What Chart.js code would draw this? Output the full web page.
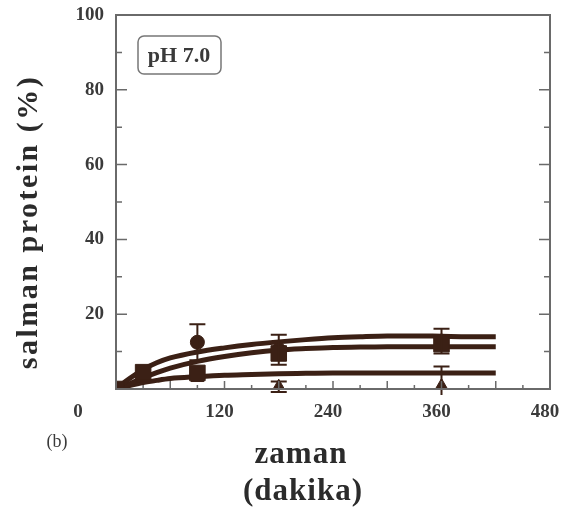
<!DOCTYPE html>
<html lang="tr">
<head>
    <meta charset="UTF-8">
    <title>salman protein - pH 7.0</title>
    <script src="https://cdn.jsdelivr.net/npm/chart.js"></script>
    <style>
        body { margin: 0; background: #ffffff; }
        #chart { display: block; }
    </style>
</head>
<body>
    <canvas id="chart" width="562" height="511"></canvas>

    <script>
        // fitted curves
        const fitTimes = [0, 15, 30, 45, 60, 90, 120, 150, 180, 210, 240, 270, 300, 330, 360, 390, 420];
        const fitUpper = [0, 2.8, 5.2, 7.0, 8.3, 9.9, 11.0, 11.9, 12.6, 13.2, 13.7, 14.0, 14.2, 14.2, 14.1, 14.0, 14.0];
        const fitMiddle = [0, 1.4, 3.0, 4.4, 5.6, 7.4, 8.7, 9.7, 10.4, 10.8, 11.1, 11.2, 11.3, 11.3, 11.3, 11.3, 11.3];
        const fitLower = [0, 0.9, 1.7, 2.3, 2.8, 3.3, 3.7, 3.9, 4.1, 4.2, 4.3, 4.3, 4.3, 4.3, 4.3, 4.3, 4.3];

        // measured points
        const sampleTimes = [0, 30, 90, 180, 360];
        const circleVals = [0, 4.0, 12.5, 10.5, 12.8];
        const circleErr = [0, 0, 4.8, 4.0, 3.3];
        const squareVals = [0, 4.5, 4.3, 9.5, 12.0];
        const squareErr = [0, 0, 0, 0, 0];
        const triangleVals = [0, 3.0, 3.0, 0.6, 0.8];
        const triangleErr = [0, 0, 0, 1.4, 5.2];

        const xTicks = [120, 240, 360, 480];
        const yTicks = [20, 40, 60, 80, 100];

        const ink = '#3b2015';
        const axisGrey = '#6a6a6a';
        const serif = "'Liberation Serif', 'DejaVu Serif', serif";

        function pts(xs, ys) {
            return xs.map((x, i) => ({ x: x, y: ys[i] }));
        }

        function curve(values) {
            return {
                type: 'line',
                data: pts(fitTimes, values),
                borderColor: ink,
                borderWidth: 5,
                pointRadius: 0,
                fill: false,
                cubicInterpolationMode: 'monotone',
                order: 2
            };
        }

        function markers(values, errs, style, radius) {
            return {
                type: 'scatter',
                data: pts(sampleTimes, values),
                errors: errs,
                pointStyle: style,
                pointRadius: radius,
                backgroundColor: ink,
                borderColor: ink,
                borderWidth: 1,
                showLine: false,
                order: 1
            };
        }

        // inward ticks, frame and error bars
        const framePlugin = {
            id: 'frame',
            afterDatasetsDraw(chart) {
                const ctx = chart.ctx;
                const a = chart.chartArea;
                const xs = chart.scales.x;
                const ys = chart.scales.y;

                // error bars
                ctx.save();
                ctx.beginPath();
                ctx.rect(a.left, a.top, a.right - a.left, a.bottom - a.top + 6);
                ctx.clip();
                ctx.strokeStyle = ink;
                ctx.lineWidth = 2;
                chart.data.datasets.forEach(ds => {
                    if (!ds.errors) return;
                    ds.data.forEach((p, i) => {
                        const e = ds.errors[i];
                        if (!e) return;
                        const px = xs.getPixelForValue(p.x);
                        const top = ys.getPixelForValue(p.y + e);
                        const bot = ys.getPixelForValue(p.y - e);
                        ctx.beginPath();
                        ctx.moveTo(px, top); ctx.lineTo(px, bot);
                        ctx.moveTo(px - 8, top); ctx.lineTo(px + 8, top);
                        ctx.moveTo(px - 8, bot); ctx.lineTo(px + 8, bot);
                        ctx.stroke();
                    });
                });
                ctx.restore();

                // box
                ctx.save();
                ctx.strokeStyle = axisGrey;
                ctx.lineWidth = 2;
                ctx.strokeRect(a.left, a.top, a.right - a.left, a.bottom - a.top);

                ctx.lineWidth = 1.5;
                ctx.beginPath();
                for (let v = 10; v < 100; v += 10) {
                    const py = ys.getPixelForValue(v);
                    const len = v % 20 === 0 ? 11 : 6;
                    ctx.moveTo(a.left, py); ctx.lineTo(a.left + len, py);
                    ctx.moveTo(a.right, py); ctx.lineTo(a.right - len, py);
                }
                for (let t = 30; t < 480; t += 30) {
                    const px = xs.getPixelForValue(t);
                    const len = t % 60 === 0 ? 8 : 4;
                    ctx.moveTo(px, a.bottom); ctx.lineTo(px, a.bottom - len);
                }
                ctx.stroke();
                ctx.restore();
            },
            afterDraw(chart) {
                const ctx = chart.ctx;
                ctx.save();
                ctx.fillStyle = '#2b2b2b';
                ctx.textAlign = 'center';
                ctx.textBaseline = 'middle';

                // axis titles
                ctx.font = 'bold 31px ' + serif;
                ctx.letterSpacing = '1px';
                ctx.fillText('zaman', 301, 455);
                ctx.fillText('(dakika)', 303, 492);

                ctx.save();
                ctx.translate(29, 222);
                ctx.rotate(-Math.PI / 2);
                ctx.font = 'bold 30px ' + serif;
                ctx.letterSpacing = '2.5px';
                ctx.fillText('salman protein (%)', 0, 0);
                ctx.restore();
                ctx.letterSpacing = '0px';

                // corner zero and panel letter
                ctx.fillStyle = '#3a3a3a';
                ctx.font = 'bold 19px ' + serif;
                ctx.fillText('0', 78, 412);
                ctx.font = '18px ' + serif;
                ctx.fillText('(b)', 57, 442);

                // pH label box
                ctx.strokeStyle = '#777';
                ctx.lineWidth = 1.5;
                ctx.beginPath();
                ctx.roundRect(138, 36, 83, 38, 6);
                ctx.stroke();
                ctx.fillStyle = '#3a3a3a';
                ctx.font = 'bold 22px ' + serif;
                ctx.fillText('pH 7.0', 179, 56);
                ctx.restore();
            }
        };

        const tickFont = { family: serif, size: 19, weight: 'bold' };

        new Chart(document.getElementById('chart'), {
            type: 'scatter',
            data: {
                datasets: [
                    curve(fitUpper),
                    curve(fitMiddle),
                    curve(fitLower),
                    markers(squareVals, squareErr, 'rect', 11),
                    markers(triangleVals, triangleErr, 'triangle', 7.5),
                    markers(circleVals, circleErr, 'circle', 7)
                ]
            },
            options: {
                responsive: false,
                animation: false,
                layout: { padding: { top: 15, right: 9, bottom: 0, left: 0 } },
                plugins: {
                    legend: { display: false },
                    tooltip: { enabled: false }
                },
                scales: {
                    x: {
                        type: 'linear',
                        min: 0,
                        max: 480,
                        grid: { display: false, drawTicks: false },
                        border: { display: false },
                        afterBuildTicks: s => { s.ticks = xTicks.map(v => ({ value: v })); },
                        ticks: {
                            padding: 12,
                            labelOffset: -5,
                            maxRotation: 0,
                            autoSkip: false,
                            color: '#3a3a3a',
                            font: tickFont
                        },
                        afterFit: s => { s.height = 122; s.paddingLeft = 0; s.paddingRight = 0; }
                    },
                    y: {
                        type: 'linear',
                        min: 0,
                        max: 100,
                        grid: { display: false, drawTicks: false },
                        border: { display: false },
                        afterBuildTicks: s => { s.ticks = yTicks.map(v => ({ value: v })); },
                        ticks: {
                            padding: 12,
                            color: '#3a3a3a',
                            font: tickFont
                        },
                        afterFit: s => { s.width = 116; s.paddingTop = 0; s.paddingBottom = 0; }
                    }
                }
            },
            plugins: [framePlugin]
        });
    </script>
</body>
</html>
